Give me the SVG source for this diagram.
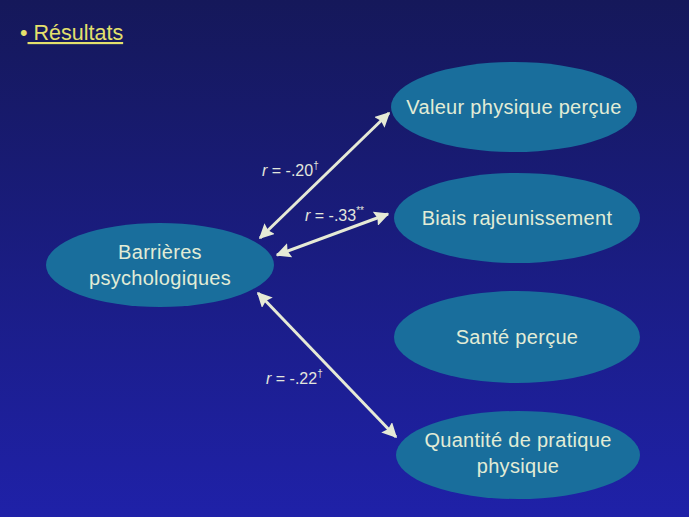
<svg xmlns="http://www.w3.org/2000/svg" width="689" height="517" viewBox="0 0 689 517">
<defs>
<linearGradient id="bg" x1="0" y1="0" x2="0" y2="1">
<stop offset="0" stop-color="#15185a"/>
<stop offset="1" stop-color="#1f21a8"/>
</linearGradient>
<marker id="ah" viewBox="0 0 10 10" refX="9" refY="5" markerWidth="5" markerHeight="5" orient="auto-start-reverse" markerUnits="strokeWidth">
<path d="M0,0 L10,5 L0,10 L1.5,5 Z" fill="#e6ead6"/>
</marker>
</defs>
<style>
.node ellipse{fill:#196e9c;}
.node text{font-family:"Liberation Sans",Arial,sans-serif;font-size:20px;letter-spacing:0.3px;fill:#e2ecd6;text-anchor:middle;}
.conn line{stroke:#e6ead6;stroke-width:3;marker-start:url(#ah);marker-end:url(#ah);}
.lbl{font-family:"Liberation Sans",Arial,sans-serif;font-size:16px;fill:#e2e6dc;}
</style>
<rect x="0" y="0" width="689" height="517" fill="url(#bg)"/>
<g id="title">
<text x="20" y="40" font-family="Liberation Sans, Arial, sans-serif" font-size="21.5" fill="#e4e06c">•<tspan text-decoration="underline"> Résultats</tspan></text>
</g>
<g id="connectors" class="conn">
<line x1="260" y1="238" x2="389" y2="113"/>
<line x1="277" y1="255" x2="388" y2="214"/>
<line x1="258" y1="293" x2="396" y2="437"/>
</g>
<g id="labels">
<text class="lbl" x="262" y="176"><tspan font-style="italic">r</tspan> = -.20<tspan font-size="10" dy="-7">†</tspan></text>
<text class="lbl" x="305" y="221"><tspan font-style="italic">r</tspan> = -.33<tspan font-size="10" dy="-7">**</tspan></text>
<text class="lbl" x="266" y="384"><tspan font-style="italic">r</tspan> = -.22<tspan font-size="10" dy="-7">†</tspan></text>
</g>
<g id="barrieres" class="node">
<ellipse cx="160" cy="265" rx="114" ry="42"/>
<text x="160" y="259">Barrières</text>
<text x="160" y="285">psychologiques</text>
</g>
<g id="valeur" class="node">
<ellipse cx="514" cy="107" rx="123" ry="45"/>
<text x="514" y="114">Valeur physique  perçue</text>
</g>
<g id="biais" class="node">
<ellipse cx="517" cy="218" rx="123" ry="45"/>
<text x="517" y="225">Biais rajeunissement</text>
</g>
<g id="sante" class="node">
<ellipse cx="517" cy="337" rx="123" ry="46"/>
<text x="517" y="344">Santé perçue</text>
</g>
<g id="quantite" class="node">
<ellipse cx="518" cy="455" rx="122" ry="44"/>
<text x="518" y="447">Quantité de pratique</text>
<text x="518" y="473">physique</text>
</g>
</svg>
